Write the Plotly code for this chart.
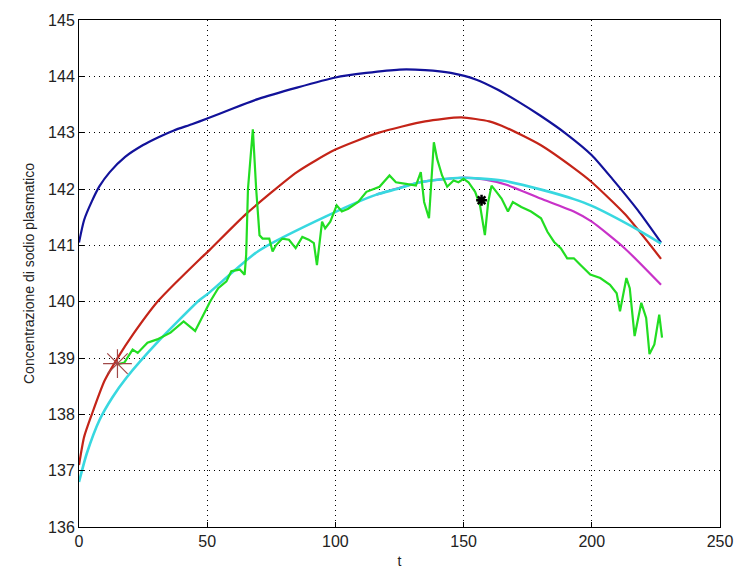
import plotly.graph_objects as go

blue_t = [0, 2, 5, 8, 12, 18, 25, 31, 37, 44, 50, 60, 70, 85, 100, 112, 125, 135, 145, 155, 163, 171, 180, 190, 200, 208, 218, 227]
blue_v = [141.05, 141.45, 141.78, 142.05, 142.3, 142.57, 142.78, 142.92, 143.04, 143.15, 143.25, 143.43, 143.6, 143.8, 143.98, 144.06, 144.12, 144.11, 144.06, 143.94, 143.77, 143.56, 143.3, 142.98, 142.6, 142.18, 141.62, 141.05]

red_t = [0, 2, 5, 10, 16, 20, 31, 47, 51, 65, 85, 100, 117, 135, 149, 160, 167, 180, 193, 200, 213, 227]
red_v = [137.1, 137.6, 138.0, 138.6, 139.07, 139.35, 140.02, 140.75, 140.92, 141.55, 142.3, 142.7, 143.0, 143.2, 143.27, 143.2, 143.08, 142.78, 142.37, 142.12, 141.55, 140.76]

cyan_t = [0, 3, 8, 13, 18.5, 31, 47, 50, 70, 98, 116, 124, 133, 149, 165, 181, 193, 200, 217, 227]
cyan_v = [136.8, 137.3, 137.9, 138.3, 138.65, 139.3, 140.03, 140.13, 140.9, 141.55, 141.9, 142.0, 142.12, 142.2, 142.15, 141.98, 141.82, 141.7, 141.3, 141.03]

mag_t = [116, 133, 149, 158, 167, 180, 193, 200, 213, 227]
mag_v = [141.9, 142.12, 142.2, 142.17, 142.07, 141.83, 141.6, 141.42, 140.94, 140.3]

green_t = [15.1, 17.7, 20.9, 22.9, 26.7, 30.5, 35.7, 37.6, 40.8, 45.3, 48.5, 51.1, 54.3, 57.5, 59.4, 62.7, 64.6, 65.2, 65.9, 67.8, 69.1, 70.4, 71.6, 74.2, 75.5, 76.8, 79.3, 81.9, 84.5, 87.1, 89.6, 91.6, 92.8, 94.1, 94.8, 96.0, 98.0, 100.5, 102.5, 105.0, 108.9, 112.1, 117.2, 121.1, 123.6, 127.5, 131.4, 133.3, 134.6, 136.5, 138.4, 139.7, 141.6, 143.6, 146.1, 148.0, 150.0, 151.9, 154.5, 156.4, 158.3, 159.6, 160.9, 162.8, 164.8, 167.3, 169.2, 172.5, 176.3, 180.2, 182.7, 185.3, 187.9, 190.4, 193.0, 195.6, 199.4, 203.3, 207.1, 209.7, 211.0, 213.5, 214.8, 216.7, 219.3, 221.2, 222.5, 224.4, 226.3, 227.4]
green_v = [138.89, 138.92, 139.15, 139.09, 139.27, 139.33, 139.45, 139.53, 139.65, 139.48, 139.77, 140.0, 140.24, 140.36, 140.54, 140.57, 140.48, 140.83, 142.0, 143.06, 142.0, 141.18, 141.12, 141.12, 140.89, 141.0, 141.12, 141.1, 140.95, 141.15, 141.1, 141.04, 140.65, 141.12, 141.42, 141.3, 141.42, 141.71, 141.6, 141.65, 141.77, 141.95, 142.04, 142.24, 142.12, 142.09, 142.06, 142.3, 141.77, 141.48, 142.83, 142.53, 142.24, 142.04, 142.15, 142.12, 142.18, 142.12, 141.95, 141.71, 141.18, 141.77, 142.06, 141.95, 141.83, 141.6, 141.77, 141.68, 141.6, 141.48, 141.24, 141.06, 140.95, 140.77, 140.77, 140.65, 140.48, 140.42, 140.3, 140.15, 139.83, 140.42, 140.24, 139.39, 139.98, 139.71, 139.07, 139.24, 139.77, 139.36]

start_t = [15]
start_v = [138.9]
mark_t = [157]
mark_v = [141.8]

x_ticks = [0, 50, 100, 150, 200, 250]
y_ticks = [136, 137, 138, 139, 140, 141, 142, 143, 144, 145]

fig = go.Figure()
smooth = dict(shape="spline", smoothing=0.6)
fig.add_trace(go.Scatter(x=blue_t, y=blue_v, mode="lines", line=dict(color="#12129a", width=2.2, **smooth)))
fig.add_trace(go.Scatter(x=red_t, y=red_v, mode="lines", line=dict(color="#c42418", width=2.2, **smooth)))
fig.add_trace(go.Scatter(x=mag_t, y=mag_v, mode="lines", line=dict(color="#c832c8", width=2.2, **smooth)))
fig.add_trace(go.Scatter(x=cyan_t, y=cyan_v, mode="lines", line=dict(color="#38d8e0", width=2.6, **smooth)))
fig.add_trace(go.Scatter(x=green_t, y=green_v, mode="lines", line=dict(color="#22dd22", width=2.2)))
fig.add_trace(go.Scatter(x=start_t, y=start_v, mode="markers",
                         marker=dict(symbol="asterisk-open", size=24, color="#a04848",
                                     line=dict(color="#a04848", width=1.2))))
fig.add_trace(go.Scatter(x=mark_t, y=mark_v, mode="markers",
                         marker=dict(symbol="asterisk-open", size=9, color="#000000",
                                     line=dict(color="#000000", width=2.5))))

axis_common = dict(showline=True, linecolor="black", linewidth=1, mirror=True,
                   ticks="inside", ticklen=5, tickcolor="black",
                   showgrid=True, gridcolor="black", gridwidth=1, griddash="1px,4px",
                   zeroline=False, tickfont=dict(family="Liberation Sans Narrow, Liberation Sans, Arial", size=16, color="#222"))

fig.update_xaxes(range=[0, 250], tickvals=x_ticks, title=dict(text="t", font=dict(family="Liberation Sans, Arial", size=14, color="#222"), standoff=6), **axis_common)
fig.update_yaxes(range=[136, 145], tickvals=y_ticks, title=dict(text="Concentrazione di sodio plasmatico", font=dict(family="Liberation Sans, Arial", size=14, color="#222"), standoff=10), **axis_common)

fig.update_layout(width=745, height=579, showlegend=False,
                  plot_bgcolor="white", paper_bgcolor="white",
                  margin=dict(l=79, r=17, t=17, b=52))

fig.write_html("out.html")
